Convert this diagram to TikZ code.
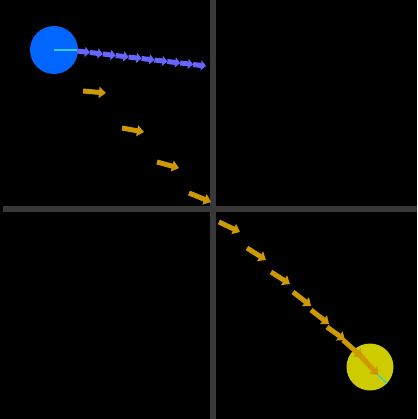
\documentclass[tikz,border=0pt]{standalone}
\usepackage{xcolor}
\usetikzlibrary{arrows.meta,calc}
\definecolor{scenebg}{HTML}{000000}
\definecolor{gridgray}{HTML}{383838}
\definecolor{ballblue}{HTML}{0066FF}
\definecolor{ballyellow}{HTML}{CCCC00}
\definecolor{trailviolet}{HTML}{6666FF}
\definecolor{velorange}{HTML}{CC9900}
\definecolor{spincyan}{HTML}{33CCDD}

\begin{document}
\begin{tikzpicture}[
  x=1pt,
  y=-1pt,
  grid/.style={gridgray, line width=6pt},
  spin/.style={spincyan, line width=1.2pt},
  trail/.style={trailviolet, line width=5pt, -{Triangle[length=5pt, width=10pt]}},
  velocity/.style={velorange, line width=5pt, -{Triangle[length=7pt, width=11pt]}}
]

  % ---- background and axes ---------------------------------------------
  \fill[scenebg] (0,0) rectangle (417,419);
  \useasboundingbox (0,0) rectangle (417,419);
  \draw[grid] (213,0) -- (213,419);
  \draw[grid] (3,209) -- (417,209);

  % ---- the two balls ---------------------------------------------------
  \coordinate (blueball) at (54,50);
  \coordinate (yellowball) at (370,367);
  \fill[ballblue] (blueball) circle (24);
  \fill[ballyellow] (yellowball) circle (23.5);
  \draw[spin] (blueball) -- ++(24,0);
  \draw[spin] (yellowball) -- ++(17,16.5);

  % ---- chain of violet arrows ------------------------------------------
  \coordinate (trailstart) at (77,51);
  \coordinate (trailend) at (206,66);
  \foreach \i in {0,...,9}
    \draw[trail] ($(trailstart)!\i/10!(trailend)$)
      -- ($(trailstart)!{(\i+1)/10}!(trailend)$);

  % ---- orange velocity arrows ------------------------------------------
  \foreach \xa/\ya/\xb/\yb in {83/91/106/93, 122/128/144/132,
      157/162/179/168, 189/193/211/202, 219/222/240/232,
      247/248/266/260, 271/272/290/284, 293/292/311/306,
      311/310/329/324, 327/327/345/340, 343/340/362/357,
      358/353/378/375}
    \draw[velocity] (\xa,\ya) -- (\xb,\yb);

\end{tikzpicture}
\end{document}
